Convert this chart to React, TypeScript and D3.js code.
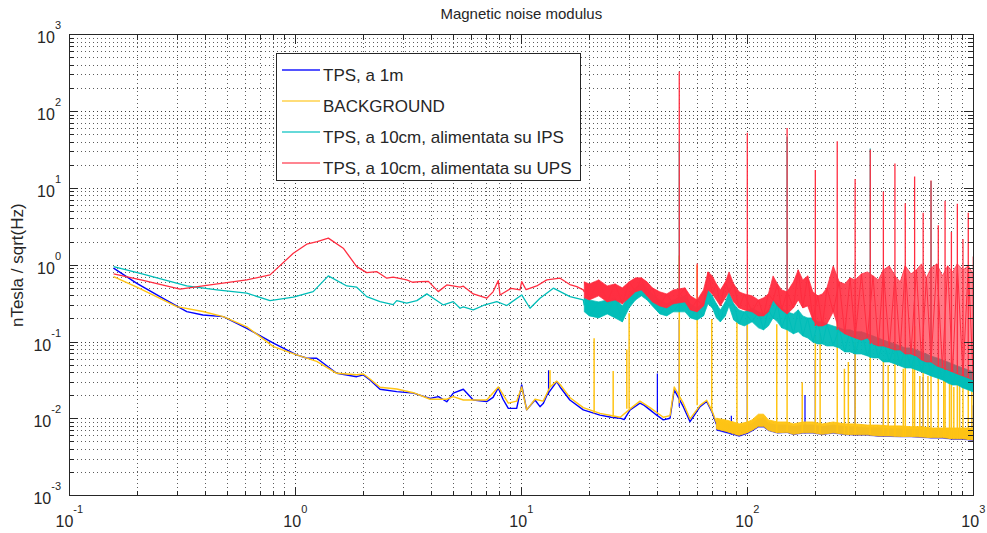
import React from 'react';
import * as d3 from 'd3';

type P = [number, number];
type B = [number, number, number];

const W = 987;
const H = 533;
const PLOT = { left: 69.3, right: 973.3, top: 34.7, bottom: 495.7 };
const FONT = 'Liberation Sans, Arial, Helvetica, sans-serif';

const title = 'Magnetic noise modulus';
const yLabel = 'nTesla / sqrt(Hz)';
const seriesNames = [
  'TPS, a 1m',
  'BACKGROUND',
  'TPS, a 10cm, alimentata su IPS',
  'TPS, a 10cm, alimentata su UPS',
];
const seriesColors = ['#0000ff', '#ffc414', '#00bdb8', '#ff2d40'];
const legendColors = ['#1a1aff', '#ffd24d', '#33cccc', '#ff5c6c'];
const xDomain: P = [0.1, 1000];
const yDomain: P = [1e-3, 1e3];
const xDecades = ['-1', '0', '1', '2', '3'];
const yDecades = ['-3', '-2', '-1', '0', '1', '2', '3'];

// ---- TPS, a 1m (blue) ----
const blueLine: P[] = [
  [0.157, 0.914], [0.199, 0.58], [0.252, 0.39], [0.331, 0.249], [0.39, 0.225], [0.48, 0.214],
  [0.61, 0.151], [0.8, 0.0965], [1.014, 0.0679], [1.12, 0.062], [1.244, 0.0615], [1.525, 0.0392],
  [1.87, 0.0354], [2.0, 0.0373], [2.14, 0.0321], [2.37, 0.0243], [2.81, 0.0226], [3.33, 0.0216],
  [3.95, 0.0185], [4.3, 0.0195], [4.68, 0.0167], [5.0, 0.0216], [5.54, 0.0243], [6.13, 0.0176],
  [7.03, 0.0168], [7.5, 0.019], [7.91, 0.0252], [8.3, 0.018], [8.76, 0.0137], [9.54, 0.0137],
  [10.04, 0.0276], [10.56, 0.0131], [11.5, 0.0176], [12.1, 0.0144], [12.5, 0.0158], [13.0, 0.0205],
  [14.35, 0.0306], [14.84, 0.026], [16.4, 0.0176], [18.8, 0.0131], [22.3, 0.0112], [25, 0.0105],
  [27.4, 0.0102], [28.5, 0.0098], [30.3, 0.0131], [33.5, 0.016], [35, 0.015], [37.1, 0.0131],
  [40, 0.011], [42.5, 0.0097], [45.5, 0.0102], [47.5, 0.0238], [52.1, 0.0144], [55.8, 0.0092],
  [61.8, 0.0144], [66.1, 0.0168], [70, 0.012], [73, 0.0085],
];
const blueBand: B[] = [
  [73, 0.0071, 0.0095], [80, 0.0066, 0.0088], [87, 0.0062, 0.0084], [92, 0.0059, 0.0079],
  [100, 0.0064, 0.0084], [105, 0.0069, 0.0088], [112, 0.0078, 0.01], [118, 0.0078, 0.0104],
  [124, 0.007, 0.0088], [136, 0.0065, 0.0084], [150, 0.0066, 0.0084], [160, 0.0062, 0.008],
  [176, 0.0065, 0.0084], [195, 0.0065, 0.0084], [215, 0.0062, 0.008], [240, 0.0065, 0.0084],
  [270, 0.0062, 0.008], [300, 0.0061, 0.0079], [340, 0.0061, 0.0077], [380, 0.0059, 0.0077],
  [425, 0.0059, 0.0075], [475, 0.0058, 0.0075], [530, 0.0058, 0.0073], [590, 0.0057, 0.0073],
  [650, 0.0056, 0.0071], [730, 0.0056, 0.0071], [810, 0.0054, 0.007], [900, 0.0054, 0.007],
  [1000, 0.0052, 0.007],
];
const bluePeaks: P[] = [
  [13.2, 0.043], [40, 0.039], [50, 0.194], [85, 0.011], [100, 0.2], [180, 0.0205], [200, 0.0585],
  [300, 0.088], [400, 0.05], [600, 0.035], [1000, 0.015],
];

// ---- BACKGROUND (yellow) ----
const yellowLine: P[] = [
  [0.157, 0.711], [0.199, 0.517], [0.299, 0.289], [0.39, 0.25], [0.48, 0.214], [0.61, 0.158],
  [0.8, 0.0871], [1.014, 0.0679], [1.244, 0.056], [1.525, 0.0392], [1.87, 0.0375], [2.0, 0.0384],
  [2.14, 0.033], [2.37, 0.0258], [2.81, 0.0245], [3.33, 0.0219], [3.95, 0.018], [4.68, 0.018],
  [5.0, 0.0195], [5.54, 0.0176], [6.13, 0.0176], [7.03, 0.0176], [7.91, 0.026], [8.76, 0.016],
  [9.54, 0.017], [10.04, 0.026], [10.56, 0.0131], [11.5, 0.018], [12.5, 0.017], [13.4, 0.026],
  [14.35, 0.031], [14.84, 0.028], [16.4, 0.019], [18.8, 0.014], [22.3, 0.0118], [27.4, 0.0105],
  [30.3, 0.0135], [33.5, 0.017], [37.1, 0.014], [42.5, 0.0105], [45.5, 0.011], [47.5, 0.026],
  [52.1, 0.016], [55.8, 0.01], [61.8, 0.015], [66.1, 0.0175], [70, 0.0125], [73, 0.009],
];
const yellowBand: B[] = [
  [73, 0.0074, 0.0102], [80, 0.0069, 0.0097], [87, 0.0064, 0.0091], [92, 0.0061, 0.0086],
  [100, 0.0066, 0.0091], [105, 0.0071, 0.0097], [112, 0.008, 0.0115], [118, 0.008, 0.0115],
  [124, 0.0071, 0.0097], [136, 0.0066, 0.0091], [150, 0.0067, 0.0091], [160, 0.0063, 0.0086],
  [176, 0.0066, 0.0091], [195, 0.0066, 0.0091], [215, 0.0063, 0.0086], [240, 0.0066, 0.0091],
  [270, 0.0063, 0.0086], [300, 0.0062, 0.0086], [340, 0.0062, 0.0083], [380, 0.006, 0.0083],
  [425, 0.006, 0.0081], [475, 0.0059, 0.0081], [530, 0.0059, 0.0079], [590, 0.0058, 0.0079],
  [650, 0.0057, 0.0076], [730, 0.0057, 0.0076], [810, 0.0055, 0.0076], [900, 0.0055, 0.0076],
  [1000, 0.0053, 0.0076],
];
const yellowPeaks: P[] = [
  [13.4, 0.043], [21, 0.112], [25.5, 0.042], [29.3, 0.08], [30, 0.237], [50, 1.34], [60, 1.0],
  [69.6, 0.2], [90, 0.21], [100, 0.237], [135, 0.17], [150, 0.22], [175, 0.03], [200, 0.12],
  [210, 0.13], [250, 0.176], [269, 0.045], [280, 0.055], [300, 0.1], [350, 0.14], [400, 0.06],
  [420, 0.05], [450, 0.08], [490, 0.045], [500, 0.07], [540, 0.055], [550, 0.16], [580, 0.036],
  [600, 0.06], [630, 0.036], [650, 0.07], [700, 0.045], [740, 0.035], [750, 0.05], [785, 0.03],
  [800, 0.04], [820, 0.026], [850, 0.035], [870, 0.028], [900, 0.03], [950, 0.03], [985, 0.028],
];

// ---- TPS, a 10cm, alimentata su IPS (teal) ----
const tealLine: P[] = [
  [0.157, 0.959], [0.21, 0.771], [0.331, 0.537], [0.45, 0.477], [0.61, 0.432], [0.773, 0.346],
  [0.98, 0.383], [1.2, 0.453], [1.4, 0.726], [1.69, 0.537], [1.87, 0.517], [2.07, 0.39],
  [2.37, 0.336], [2.71, 0.307], [2.81, 0.346], [3.11, 0.32], [3.45, 0.346], [3.82, 0.423],
  [4.08, 0.372], [4.52, 0.304], [5.0, 0.336], [5.36, 0.275], [5.54, 0.287], [6.13, 0.262],
  [6.79, 0.299], [7.79, 0.336], [8.62, 0.299], [10.04, 0.41], [10.93, 0.275], [12.1, 0.372],
  [13.86, 0.502], [16.43, 0.39], [18.8, 0.353], [19, 0.3],
];
const tealBand: B[] = [
  [19, 0.247, 0.376], [20, 0.219, 0.353], [22, 0.206, 0.333], [24, 0.232, 0.353], [26, 0.206, 0.376],
  [28, 0.183, 0.295], [30, 0.278, 0.423], [32, 0.353, 0.507], [34, 0.399, 0.571], [36, 0.353, 0.507],
  [38, 0.295, 0.423], [41, 0.232, 0.353], [44, 0.219, 0.314], [47, 0.247, 0.353], [53, 0.247, 0.399],
  [56, 0.206, 0.314], [60, 0.194, 0.278], [64, 0.219, 0.333], [67, 0.314, 0.477], [70, 0.278, 0.399],
  [73, 0.206, 0.314], [76, 0.183, 0.262], [80, 0.219, 0.333], [83, 0.295, 0.45], [87, 0.194, 0.314],
  [92, 0.172, 0.262], [97, 0.162, 0.247], [105, 0.183, 0.278], [112, 0.153, 0.247], [118, 0.144, 0.232],
  [124, 0.162, 0.262], [130, 0.206, 0.353], [136, 0.183, 0.314], [142, 0.153, 0.278], [150, 0.144, 0.247],
  [160, 0.128, 0.232], [168, 0.136, 0.262], [176, 0.12, 0.219], [185, 0.113, 0.206], [195, 0.1, 0.206],
  [205, 0.0944, 0.183], [215, 0.0944, 0.183], [225, 0.0889, 0.172], [240, 0.0889, 0.162],
  [255, 0.0838, 0.153], [270, 0.0743, 0.144], [285, 0.0743, 0.144], [300, 0.07, 0.136],
  [320, 0.07, 0.136], [340, 0.0659, 0.128], [360, 0.0621, 0.12], [380, 0.0621, 0.113],
  [400, 0.0551, 0.106], [425, 0.0551, 0.1], [450, 0.0519, 0.0944], [475, 0.0489, 0.0889],
  [500, 0.046, 0.0838], [530, 0.046, 0.0838], [560, 0.0434, 0.0789], [590, 0.0408, 0.0743],
  [620, 0.0385, 0.07], [650, 0.0362, 0.0659], [690, 0.0341, 0.0621], [730, 0.0321, 0.0585],
  [770, 0.0293, 0.0551], [810, 0.0276, 0.0519], [850, 0.0276, 0.0489], [900, 0.0252, 0.046],
  [950, 0.0238, 0.0434], [1000, 0.0224, 0.0408],
];
const tealPeaks: P[] = [[50, 40.7], [150, 47], [350, 33], [650, 12.5]];

// ---- TPS, a 10cm, alimentata su UPS (red) ----
const redLine: P[] = [
  [0.157, 0.771], [0.21, 0.64], [0.309, 0.487], [0.42, 0.554], [0.61, 0.644], [0.773, 0.748],
  [0.98, 1.43], [1.123, 1.877], [1.25, 2.03], [1.4, 2.25], [1.63, 1.665], [1.87, 0.959],
  [2.07, 0.801], [2.29, 0.826], [2.54, 0.677], [2.71, 0.698], [3.11, 0.644], [3.3, 0.6],
  [3.56, 0.611], [3.88, 0.616], [4.29, 0.453], [4.68, 0.554], [5.36, 0.517], [5.54, 0.533],
  [6.13, 0.423], [7.03, 0.372], [7.5, 0.45], [7.91, 0.63], [8.05, 0.41], [9.0, 0.5],
  [9.87, 0.477], [10.04, 0.611], [10.5, 0.48], [11.7, 0.537], [12.96, 0.644], [14.84, 0.677],
  [16.4, 0.56], [17.6, 0.526], [18.8, 0.477], [19, 0.45],
];
const redBand: B[] = [
  [19, 0.376, 0.607], [20, 0.353, 0.571], [22, 0.399, 0.644], [24, 0.333, 0.538], [26, 0.353, 0.571],
  [28, 0.314, 0.507], [30, 0.376, 0.607], [32, 0.45, 0.684], [34, 0.477, 0.684], [36, 0.399, 0.607],
  [38, 0.333, 0.507], [41, 0.295, 0.45], [44, 0.278, 0.423], [47, 0.314, 0.477], [53, 0.333, 0.507],
  [56, 0.262, 0.399], [60, 0.247, 0.353], [64, 0.295, 0.477], [67, 0.477, 0.818], [70, 0.423, 0.726],
  [73, 0.353, 0.571], [76, 0.295, 0.477], [80, 0.376, 0.607], [83, 0.45, 0.818], [87, 0.333, 0.571],
  [92, 0.278, 0.45], [97, 0.262, 0.423], [105, 0.247, 0.399], [112, 0.219, 0.353], [118, 0.219, 0.376],
  [124, 0.247, 0.423], [130, 0.353, 0.726], [136, 0.295, 0.571], [142, 0.262, 0.477], [150, 0.232, 0.45],
  [160, 0.278, 0.607], [168, 0.353, 0.869], [176, 0.278, 0.644], [185, 0.295, 0.726], [195, 0.194, 0.45],
  [205, 0.162, 0.399], [215, 0.162, 0.423], [225, 0.172, 0.507], [240, 0.247, 0.98], [255, 0.144, 0.607],
  [270, 0.128, 0.571], [285, 0.12, 0.684], [300, 0.113, 0.644], [320, 0.106, 0.771], [340, 0.113, 0.818],
  [360, 0.0944, 0.726], [380, 0.0889, 0.644], [400, 0.0889, 0.869], [425, 0.0838, 0.98],
  [450, 0.0789, 0.726], [475, 0.0789, 0.607], [500, 0.07, 0.98], [530, 0.07, 0.771],
  [560, 0.0659, 0.869], [590, 0.0585, 1.04], [620, 0.0551, 0.684], [650, 0.0551, 0.92],
  [690, 0.0489, 1.04], [730, 0.046, 0.726], [770, 0.0434, 0.98], [810, 0.0408, 0.818],
  [850, 0.0385, 1.04], [900, 0.0362, 0.869], [950, 0.0341, 0.98], [1000, 0.0321, 0.771],
];
const redPeaks: P[] = [
  [50, 332], [60, 1.05], [100, 53], [150, 61], [200, 17.4], [250, 41], [300, 13.2], [350, 32],
  [400, 9.1], [450, 21], [500, 6.4], [550, 14.3], [600, 4.8], [650, 12.7], [700, 3.3], [750, 6.9],
  [800, 2.7], [850, 6.3], [900, 2.2], [950, 4.8], [1000, 1.3],
];

const x = d3.scaleLog().domain(xDomain).range([PLOT.left, PLOT.right]);
const y = d3.scaleLog().domain(yDomain).range([PLOT.bottom, PLOT.top]);
const lineGen = d3.line<P>().x((d) => x(d[0])).y((d) => y(d[1]));
const areaGen = d3.area<B>().x((d) => x(d[0])).y0((d) => y(d[1])).y1((d) => y(d[2]));
// zig-zag through the band samples (alternating lower / upper reading)
const zigGen = d3.line<B>().x((d) => x(d[0])).y((d, i) => y(i % 2 === 0 ? d[2] : d[1]));

function baseAt(f: number, line: P[], band: B[]): number {
  if (f >= band[0][0]) {
    const i = d3.minIndex(band, (d) => Math.abs(Math.log(d[0] / f)));
    return band[i][1];
  }
  const i = d3.minIndex(line, (d) => Math.abs(Math.log(d[0] / f)));
  return line[i][1];
}

function Series(props: {
  id: string; line: P[]; band: B[]; peaks: P[]; color: string; peakWidth: number;
  fadeTo: number; zig: boolean; lineWidth: number; bandStroke: number;
}) {
  const { id, line, band, peaks, color, peakWidth, fadeTo, zig, lineWidth, bandStroke } = props;
  const x0 = x(band[0][0]);
  const x1 = x(band[band.length - 1][0]);
  const xm = x(200);
  const gid = 'fade-' + id;
  return (
    <g>
      <defs>
        <linearGradient id={gid} gradientUnits="userSpaceOnUse" x1={x0} x2={x1} y1={0} y2={0}>
          <stop offset={0} stopColor={color} stopOpacity={1} />
          <stop offset={Math.max(0, (xm - x0) / (x1 - x0))} stopColor={color} stopOpacity={0.95} />
          <stop offset={1} stopColor={color} stopOpacity={fadeTo} />
        </linearGradient>
      </defs>
      <path d={lineGen(line) || ''} fill="none" stroke={color} strokeWidth={lineWidth} strokeLinejoin="round" />
      <path d={areaGen(band) || ''} fill={`url(#${gid})`} stroke={color} strokeWidth={bandStroke} strokeOpacity={0.9} />
      {zig && <path d={zigGen(band) || ''} fill="none" stroke={color} strokeWidth={1} />}
      {peaks.map((p, i) => (
        <line key={i} x1={x(p[0])} x2={x(p[0])} y1={y(baseAt(p[0], line, band))} y2={y(p[1])} stroke={color} strokeWidth={peakWidth} />
      ))}
    </g>
  );
}

export default function App() {
  const xt = x.ticks();
  const yt = y.ticks();
  const isMajor = (v: number) => Math.abs(Math.log10(v) - Math.round(Math.log10(v))) < 1e-6;
  const gridColor = '#333';
  const axisColor = '#262626';
  const legendRowY = [70, 101, 132, 163];
  return (
    <svg width={W} height={H} style={{ position: 'absolute', left: 0, top: 0, background: '#fff' }} fontFamily={FONT}>
      <rect x={0} y={0} width={W} height={H} fill="#fff" />
      <defs>
        <clipPath id="plotClip">
          <rect x={PLOT.left} y={PLOT.top} width={PLOT.right - PLOT.left} height={PLOT.bottom - PLOT.top} />
        </clipPath>
      </defs>
      {/* grid */}
      <g stroke={gridColor} strokeWidth={1} strokeDasharray="1,3" shapeRendering="crispEdges">
        {xt.map((v, i) => (
          <line key={'gx' + i} x1={x(v)} x2={x(v)} y1={PLOT.top} y2={PLOT.bottom} strokeOpacity={isMajor(v) ? 0.95 : 0.8} />
        ))}
        {yt.map((v, i) => (
          <line key={'gy' + i} x1={PLOT.left} x2={PLOT.right} y1={y(v)} y2={y(v)} strokeOpacity={isMajor(v) ? 0.95 : 0.8} />
        ))}
      </g>
      {/* data */}
      <g clipPath="url(#plotClip)">
        <Series id="b" line={blueLine} band={blueBand} peaks={bluePeaks} color={seriesColors[0]} peakWidth={1.2} fadeTo={1} zig={false} lineWidth={1.4} bandStroke={0.4} />
        <Series id="y" line={yellowLine} band={yellowBand} peaks={yellowPeaks} color={seriesColors[1]} peakWidth={1.5} fadeTo={1} zig={false} lineWidth={1.4} bandStroke={1} />
        <Series id="t" line={tealLine} band={tealBand} peaks={tealPeaks} color={seriesColors[2]} peakWidth={1.2} fadeTo={1} zig={true} lineWidth={1.3} bandStroke={0.8} />
        <Series id="r" line={redLine} band={redBand} peaks={redPeaks} color={seriesColors[3]} peakWidth={1.3} fadeTo={0.55} zig={true} lineWidth={1.3} bandStroke={0.8} />
      </g>
      {/* ticks */}
      <g stroke={axisColor} strokeWidth={1} shapeRendering="crispEdges">
        {xt.map((v, i) => {
          const L = isMajor(v) ? 9 : 5;
          return (
            <g key={'tx' + i}>
              <line x1={x(v)} x2={x(v)} y1={PLOT.bottom} y2={PLOT.bottom - L} />
              <line x1={x(v)} x2={x(v)} y1={PLOT.top} y2={PLOT.top + L} />
            </g>
          );
        })}
        {yt.map((v, i) => {
          const L = isMajor(v) ? 9 : 5;
          return (
            <g key={'ty' + i}>
              <line x1={PLOT.left} x2={PLOT.left + L} y1={y(v)} y2={y(v)} />
              <line x1={PLOT.right} x2={PLOT.right - L} y1={y(v)} y2={y(v)} />
            </g>
          );
        })}
        <rect x={PLOT.left} y={PLOT.top} width={PLOT.right - PLOT.left} height={PLOT.bottom - PLOT.top} fill="none" />
      </g>
      {/* tick labels */}
      <g fill={axisColor} fontSize={16}>
        {xDecades.map((e) => (
          <text key={'xl' + e} x={x(Math.pow(10, +e))} y={526.5} textAnchor="middle">
            10<tspan dy={-14} fontSize={11}>{e}</tspan>
          </text>
        ))}
        {yDecades.map((e) => (
          <text key={'yl' + e} x={61} y={y(Math.pow(10, +e)) + 8.5} textAnchor="end">
            10<tspan dy={-14} fontSize={11}>{e}</tspan>
          </text>
        ))}
      </g>
      {/* title & axis label */}
      <text x={(PLOT.left + PLOT.right) / 2} y={19} textAnchor="middle" fontSize={15} fill={axisColor}>{title}</text>
      <text transform={`translate(23, ${(PLOT.top + PLOT.bottom) / 2}) rotate(-90)`} textAnchor="middle" fontSize={17} fill={axisColor}>{yLabel}</text>
      {/* legend */}
      <g>
        <rect x={276} y={53} width={304} height={127} fill="#fff" stroke={axisColor} strokeWidth={1} shapeRendering="crispEdges" />
        {seriesNames.map((name, i) => (
          <g key={'lg' + i}>
            <line x1={282} x2={320} y1={legendRowY[i]} y2={legendRowY[i]} stroke={legendColors[i]} strokeWidth={1.5} />
            <text x={323} y={legendRowY[i] + 11} fontSize={17} fill={axisColor}>{name}</text>
          </g>
        ))}
      </g>
    </svg>
  );
}
